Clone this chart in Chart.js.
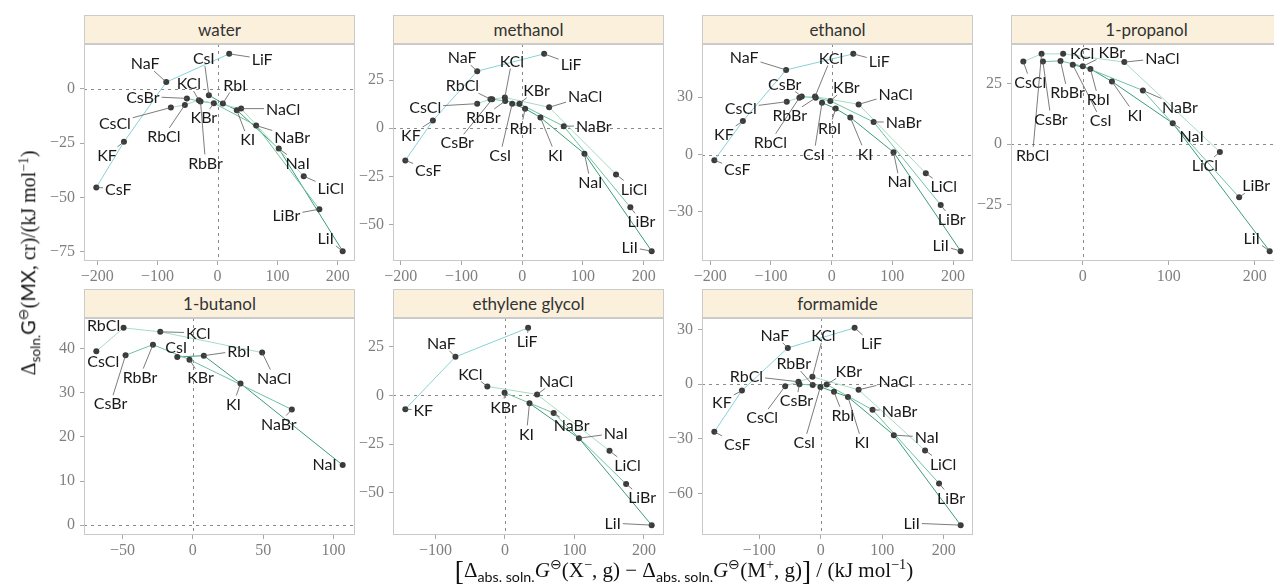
<!DOCTYPE html>
<html><head><meta charset="utf-8">
<script src="https://cdn.jsdelivr.net/npm/chart.js@4/dist/chart.umd.min.js"></script>
<style>
html,body{margin:0;padding:0;background:#fff;overflow:hidden;width:1274px;height:586px}
#wrap{position:relative;width:1274px;height:586px;overflow:hidden}
canvas{position:absolute}
.strip{position:absolute;background:#faf0dc;border:1px solid #cbcbcb;box-sizing:border-box;font-family:Lato,'Noto Sans',sans-serif;font-size:17px;color:#333;text-align:center;line-height:27px}
.title{position:absolute;white-space:nowrap;font-family:'Liberation Serif',serif;font-size:20px;color:#111}
.title sub{font-size:0.68em;vertical-align:-0.3em;font-family:Lato,sans-serif}
.title sup{font-size:0.68em;vertical-align:0.55em}
.sans{font-family:Lato,sans-serif}
.big{font-size:1.3em;vertical-align:-0.08em}
</style></head>
<body><div id="wrap"></div>
<script>
// ---------------- data ----------------
const solvents = ['water','methanol','ethanol','1-propanol','1-butanol','ethylene glycol','formamide'];

const allSalts = ['CsF','KF','NaF','LiF','CsCl','RbCl','KCl','NaCl','LiCl','CsBr','RbBr','KBr','NaBr','LiBr','CsI','RbI','KI','NaI','LiI'];

const waterSalts = allSalts;
const waterX = [-201.7,-155.7,-85.3,19.4,-77.6,-54.3,-31.0,39.3,143.5,-51.0,-28.3,-6.1,64.3,169.5,-14.4,8.9,32.1,101.9,208.3];
const waterY = [-45.4,-24.4,3.1,16.1,-8.6,-7.4,-5.2,-9.1,-40.2,-4.4,-5.8,-6.6,-16.9,-55.4,-2.9,-6.7,-9.8,-27.5,-74.7];

const methanolSalts = allSalts;
const methanolX = [-192.3,-146.9,-74.0,36.2,-74.0,-52.1,-28.5,44.4,154.5,-49.3,-27.9,-4.4,68.5,178.1,-16.4,4.9,30.1,102.5,213.2];
const methanolY = [-16.7,4.0,29.7,38.7,12.8,15.1,16.0,10.9,-24.0,15.1,14.2,12.8,1.0,-41.1,12.8,10.2,5.6,-13.2,-63.9];

const ethanolSalts = allSalts;
const ethanolX = [-193.4,-146.3,-75.1,35.6,-74.0,-53.2,-27.4,44.4,155.1,-49.3,-26.3,-2.2,69.1,179.7,-15.9,6.6,30.7,101.9,212.6];
const ethanolY = [-3.0,17.5,44.2,52.6,27.6,29.7,30.3,26.2,-9.8,30.3,29.6,28.0,17.0,-26.4,27.1,24.0,19.4,1.2,-50.5];

const propanolSalts = ['CsCl','RbCl','KCl','NaCl','LiCl','CsBr','RbBr','KBr','NaBr','LiBr','CsI','RbI','KI','NaI','LiI'];
const propanolX = [-69.1,-47.9,-22.8,48.3,159.4,-46.3,-25.9,0.0,69.9,181.8,-11.6,8.9,33.9,104.6,217.3];
const propanolY = [34.1,37.3,37.3,33.9,-3.2,34.1,34.4,32.2,22.2,-21.9,32.8,31.1,25.9,8.7,-44.1];

const butanolSalts = ['CsCl','RbCl','KCl','NaCl','CsBr','RbBr','KBr','NaBr','CsI','RbI','KI','NaI'];
const butanolX = [-68.7,-49.3,-23.2,49.3,-47.9,-28.4,-2.4,70.4,-11.1,7.8,33.9,106.6];
const butanolY = [39.4,44.7,43.8,39.1,38.5,40.9,37.5,26.2,38.1,38.4,32.1,13.6];

const glycolSalts = ['KF','NaF','LiF','KCl','NaCl','LiCl','KBr','NaBr','LiBr','KI','NaI','LiI'];
const glycolX = [-143.3,-71.2,33.4,-25.3,46.3,150.5,-0.5,70.2,174.4,35.4,106.5,211.2];
const glycolY = [-7.1,19.8,34.7,4.6,0.5,-28.5,1.4,-9.1,-45.6,-4.1,-22.0,-66.7];

const formamideSalts = allSalts;
const formamideX = [-173.0,-128.1,-53.5,55.1,-57.8,-36.2,-13.5,61.6,169.7,-34.6,-13.0,9.7,84.3,192.4,-0.5,21.6,44.3,118.9,227.6];
const formamideY = [-26.2,-3.5,19.9,30.9,-1.1,1.3,4.0,-3.1,-36.4,0.0,-0.5,-0.2,-14.1,-54.5,-1.5,-4.2,-7.0,-28.0,-77.4];

// tick labels
const xTicksWide = [-200,-100,0,100,200];
const waterYTicks = [-75,-50,-25,0];
const methanolYTicks = [-50,-25,0,25];
const ethanolYTicks = [-30,0,30];
const propanolXTicks = [0,100,200];
const propanolYTicks = [-25,0,25];
const butanolXTicks = [-50,0,50,100];
const butanolYTicks = [0,10,20,30,40];
const glycolXTicks = [-100,0,100,200];
const glycolYTicks = [-50,-25,0,25];
const formamideXTicks = [-100,0,100,200];
const formamideYTicks = [-60,-30,0,30];

// ---------------- layout (label placement offsets, px) ----------------
const labelOffsets = {
 water:{CsF:[22,1],KF:[-17,13],NaF:[-21,-19],LiF:[33,5],CsBr:[-44,-2],CsCl:[-56,15],KCl:[-10,-17],CsI:[-5,-37],RbI:[12,-19],RbCl:[-21,31],KBr:[-10,14],RbBr:[5,61],NaCl:[42,0],KI:[11,29],NaBr:[36,11],NaI:[19,14],LiCl:[27,12],LiBr:[-33,6],LiI:[-17,-13]},
 methanol:{NaF:[-15,-14],KCl:[7,-37],LiF:[27,10],RbCl:[-28,-14],KBr:[17,-14],NaCl:[36,-11],CsCl:[-52,3],RbBr:[-22,16],RbI:[-4,19],NaBr:[30,-1],KF:[-22,14],CsBr:[-35,43],CsI:[-12,51],KI:[15,37],CsF:[23,9],NaI:[6,28],LiCl:[18,14],LiBr:[11,14],LiI:[-22,-4]},
 ethanol:{NaF:[-42,-13],KCl:[16,-39],LiF:[26,7],CsBr:[-17,-13],KBr:[16,-14],NaCl:[37,-11],CsCl:[-46,6],RbBr:[-26,17],NaBr:[30,0],RbI:[-6,19],KF:[-19,13],RbCl:[-29,44],CsI:[-8,51],KI:[15,36],CsF:[23,9],NaI:[6,29],LiCl:[18,13],LiBr:[11,14],LiI:[-20,-6]},
 '1-propanol':{CsCl:[7,20],RbCl:[-9,101],CsBr:[8,57],RbBr:[7,31],KCl:[19,-1],KBr:[29,-14],RbI:[8,30],CsI:[28,55],KI:[23,33],NaCl:[38,-4],NaBr:[37,16],NaI:[19,13],LiCl:[-15,13],LiBr:[17,-12],LiI:[-18,-13]},
 '1-butanol':{RbCl:[-20,-3],KCl:[38,1],CsI:[-1,-10],RbI:[35,-5],CsCl:[7,10],RbBr:[-13,32],KBr:[11,17],NaCl:[12,25],CsBr:[-15,48],KI:[-7,20],NaBr:[-13,14],NaI:[-18,-1]},
 'ethylene glycol':{NaF:[-14,-14],LiF:[-1,13],KCl:[-17,-13],NaCl:[19,-14],KF:[18,1],KBr:[-1,14],KI:[-3,30],NaBr:[18,12],NaI:[37,-5],LiCl:[18,14],LiBr:[16,13],LiI:[-39,-2]},
 formamide:{NaF:[-13,-13],KCl:[11,-42],LiF:[17,15],RbBr:[-19,-22],KBr:[22,-14],NaCl:[37,-9],RbCl:[-52,-6],CsBr:[-3,16],KF:[-20,11],CsCl:[-23,31],RbI:[9,23],NaBr:[27,1],CsI:[-16,55],KI:[14,45],CsF:[23,12],NaI:[33,2],LiCl:[18,13],LiBr:[12,14],LiI:[-49,-2]}
};

const panels = [
 {name:'water', salts:waterSalts, x:waterX, y:waterY, xt:xTicksWide, yt:waterYTicks},
 {name:'methanol', salts:methanolSalts, x:methanolX, y:methanolY, xt:xTicksWide, yt:methanolYTicks},
 {name:'ethanol', salts:ethanolSalts, x:ethanolX, y:ethanolY, xt:xTicksWide, yt:ethanolYTicks},
 {name:'1-propanol', salts:propanolSalts, x:propanolX, y:propanolY, xt:propanolXTicks, yt:propanolYTicks},
 {name:'1-butanol', salts:butanolSalts, x:butanolX, y:butanolY, xt:butanolXTicks, yt:butanolYTicks},
 {name:'ethylene glycol', salts:glycolSalts, x:glycolX, y:glycolY, xt:glycolXTicks, yt:glycolYTicks},
 {name:'formamide', salts:formamideSalts, x:formamideX, y:formamideY, xt:formamideXTicks, yt:formamideYTicks}
];

const anions = ['F','Cl','Br','I'];
const anionColors = {F:'#86d3d8', Cl:'#a6ddc3', Br:'#6dc3a0', I:'#3c9c78'};

const PANEL_W = 271, PANEL_H = 217, STRIP_H = 29;
const COL_X = [84, 393, 702, 1011];
const ROW_Y = [44, 318];
const YW = 56, PT = 16, PR = 16, XH = 30;

function anionOf(s){ return s.endsWith('F')?'F':s.endsWith('Cl')?'Cl':s.endsWith('Br')?'Br':'I'; }
function limits(arr){ const lo=Math.min(0,...arr), hi=Math.max(0,...arr), r=hi-lo; return [lo-0.05*r, hi+0.05*r]; }
function fmt(v){ return v<0 ? '\u2212'+Math.abs(v) : String(v); }

const decorPlugin = {
  id:'decor',
  beforeDatasetsDraw(chart){
    const {ctx, chartArea:a, scales:{x,y}} = chart;
    ctx.save();
    ctx.strokeStyle='#8a8a8a'; ctx.lineWidth=1; ctx.setLineDash([3,4]);
    const x0 = Math.round(x.getPixelForValue(0))+0.5;
    const y0 = Math.round(y.getPixelForValue(0))+0.5;
    ctx.beginPath(); ctx.moveTo(x0,a.top); ctx.lineTo(x0,a.bottom); ctx.stroke();
    ctx.beginPath(); ctx.moveTo(a.left,y0); ctx.lineTo(a.right,y0); ctx.stroke();
    ctx.restore();
  },
  afterDatasetsDraw(chart){
    const {ctx, scales:{x,y}} = chart;
    const p = chart.options.plugins.decor.panel;
    const offs = labelOffsets[p.name];
    ctx.save();
    ctx.font = '16px Lato';
    ctx.textAlign='center'; ctx.textBaseline='middle';
    p.salts.forEach((s,i)=>{
      const px = x.getPixelForValue(p.x[i]), py = y.getPixelForValue(p.y[i]);
      const off = offs[s] || [0,-14];
      const cx = px+off[0], cy = py+off[1];
      const w = ctx.measureText(s).width, h = 12;
      const hw = w/2+2, hh = h/2+2;
      const dx = px-cx, dy = py-cy;
      if (Math.abs(dx) > hw || Math.abs(dy) > hh) {
        const t = Math.min(dx ? hw/Math.abs(dx) : Infinity, dy ? hh/Math.abs(dy) : Infinity);
        const ex = cx+dx*t, ey = cy+dy*t;
        if (Math.hypot(px-ex, py-ey) > 5) {
          ctx.strokeStyle='#5a5a5a'; ctx.lineWidth=0.8;
          ctx.beginPath(); ctx.moveTo(px,py); ctx.lineTo(ex,ey); ctx.stroke();
        }
      }
      ctx.fillStyle='#1a1a1a';
      ctx.fillText(s,cx,cy+1);
    });
    ctx.restore();
  },
  afterDraw(chart){
    const {ctx, chartArea:a} = chart;
    ctx.save(); ctx.strokeStyle='#c9c9c9'; ctx.lineWidth=1;
    ctx.strokeRect(Math.round(a.left)+0.5, Math.round(a.top)+0.5, Math.round(a.right-a.left)-1, Math.round(a.bottom-a.top)-1);
    ctx.restore();
  }
};

const wrap = document.getElementById('wrap');

panels.forEach((p, idx)=>{
  const col = idx%4, row = Math.floor(idx/4);
  const left = COL_X[col], top = ROW_Y[row];
  const st = document.createElement('div');
  st.className='strip';
  st.style.left=left+'px'; st.style.top=(top-STRIP_H)+'px';
  st.style.width=PANEL_W+'px'; st.style.height=STRIP_H+'px';
  st.textContent=p.name;
  wrap.appendChild(st);
  const cv = document.createElement('canvas');
  const W = YW+PANEL_W+PR, H = PT+PANEL_H+XH;
  cv.width=W; cv.height=H;
  cv.style.left=(left-YW)+'px'; cv.style.top=(top-PT)+'px';
  cv.style.width=W+'px'; cv.style.height=H+'px';
  wrap.appendChild(cv);

  const [xmin,xmax] = limits(p.x), [ymin,ymax] = limits(p.y);
  const datasets = [{
    data: p.x.map((v,i)=>({x:v,y:p.y[i]})),
    pointRadius:3, pointBackgroundColor:'#3b3b3b', pointBorderWidth:0,
    showLine:false, order:0
  }];
  anions.forEach(an=>{
    const pts = p.salts.map((s,i)=>({s,i})).filter(o=>anionOf(o.s)===an)
      .map(o=>({x:p.x[o.i], y:p.y[o.i]})).sort((a,b)=>a.x-b.x);
    if (pts.length>1) datasets.push({data:pts, showLine:true, pointRadius:0, borderColor:anionColors[an], borderWidth:1, fill:false, tension:0, order:1});
  });
  const tickFont = {family:"'Liberation Serif'", size:16};
  new Chart(cv, {
    type:'scatter',
    data:{datasets},
    options:{
      responsive:false, animation:false, devicePixelRatio:1,
      layout:{padding:{top:PT,right:PR,left:0,bottom:0}},
      plugins:{legend:{display:false}, tooltip:{enabled:false}, decor:{panel:p}},
      scales:{
        x:{type:'linear', min:xmin, max:xmax,
           afterBuildTicks:s=>{s.ticks=p.xt.map(v=>({value:v}));},
           afterFit:s=>{s.height=XH;},
           grid:{display:true, drawOnChartArea:false, drawTicks:true, tickLength:4, color:'#a8a8a8'},
           border:{display:false},
           ticks:{font:tickFont, color:'#7f7f7f', padding:2, maxRotation:0, callback:v=>fmt(v)}},
        y:{type:'linear', min:ymin, max:ymax,
           afterBuildTicks:s=>{s.ticks=p.yt.map(v=>({value:v}));},
           afterFit:s=>{s.width=YW;},
           grid:{display:true, drawOnChartArea:false, drawTicks:true, tickLength:4, color:'#a8a8a8'},
           border:{display:false},
           ticks:{font:tickFont, color:'#7f7f7f', padding:5, callback:v=>fmt(v)}}
      }
    },
    plugins:[decorPlugin]
  });
});

// axis titles
const yt = document.createElement('div');
yt.className='title';
yt.innerHTML = 'Δ<sub>soln.</sub><span class="sans">G</span><sup>⊖</sup>(<span class="sans">MX</span>, cr)/(kJ mol<sup>−1</sup>)';
yt.style.left='29px'; yt.style.top='263px';
yt.style.transform='translate(-50%,-50%) rotate(-90deg)';
wrap.appendChild(yt);

const xt = document.createElement('div');
xt.className='title';
xt.style.fontSize='21px';
xt.innerHTML = '<span class="big">[</span>Δ<sub>abs. soln.</sub><i>G</i><sup>⊖</sup>(X<sup>−</sup>, g) − Δ<sub>abs. soln.</sub><i>G</i><sup>⊖</sup>(M<sup>+</sup>, g)<span class="big">]</span> / (kJ mol<sup>−1</sup>)';
xt.style.left='684px'; xt.style.top='571px';
xt.style.transform='translate(-50%,-50%)';
wrap.appendChild(xt);
</script>
</body></html>
